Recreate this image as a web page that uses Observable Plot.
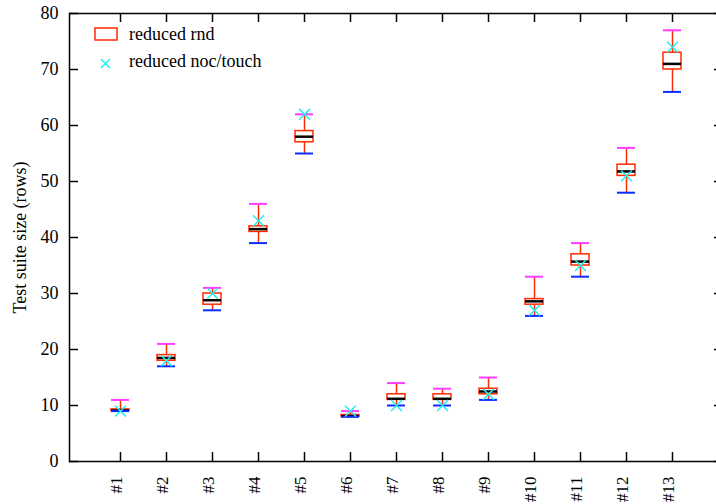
<!DOCTYPE html>
<html><head><meta charset="utf-8">
<script src="https://cdn.jsdelivr.net/npm/d3@7"></script>
<script src="https://cdn.jsdelivr.net/npm/@observablehq/plot@0.6"></script>
<style>
body{margin:0;background:#fff;}
#wrap{position:relative;width:716px;height:504px;overflow:hidden;background:#fff;}
.lg{position:absolute;font-family:"Liberation Serif",serif;font-size:18px;color:#000;white-space:nowrap;line-height:1;}
</style></head><body><div id="wrap"></div>
<script>
const labels = ["#1","#2","#3","#4","#5","#6","#7","#8","#9","#10","#11","#12","#13"];
const mins    = [9, 17, 27, 39, 55, 8, 10, 10, 11, 26, 33, 48, 66];
const q1s     = [9, 18, 28, 41, 57, 8, 11, 11, 12, 28, 35, 51, 70];
const medians = [9.1, 18.5, 28.8, 41.5, 58, 8.1, 11.2, 11.2, 12.5, 28.6, 35.7, 51.8, 71];
const q3s     = [9.3, 19, 30, 42, 59, 8.3, 12, 12, 13, 29, 37, 53, 73];
const maxs    = [11, 21, 31, 46, 62, 9, 14, 13, 15, 33, 39, 56, 77];
const nocTouch= [9, 18, 30, 43, 62, 9, 10, 10, 12, 27, 35, 51, 74];
const yTicks  = [0,10,20,30,40,50,60,70,80];
const yLabel = "Test suite size (rows)";
const legendLabels = ["reduced rnd","reduced noc/touch"];

const rows = labels.map((k,i)=>({k, min:mins[i], q1:q1s[i], med:medians[i], q3:q3s[i], max:maxs[i], noc:nocTouch[i]}));

const RED="#ff2a00", MAG="#ff3cff", BLUE="#0a2cff", CYAN="#1ef0f0";
const frameW = 716-69+7, frameH = 504-13-43;

const chart = Plot.plot({
  width:716, height:504,
  marginLeft:69, marginRight:-7, marginTop:13, marginBottom:43,
  style:{fontFamily:"Liberation Serif, serif", fontSize:"18px", background:"white", color:"black"},
  x:{type:"band", domain:labels, paddingInner:0.6, paddingOuter:0.8},
  y:{domain:[0,80]},
  marks:[
    Plot.frame({stroke:"black", strokeWidth:1.5}),
    Plot.ruleY(yTicks, {y:d=>d, insetRight:frameW-9, stroke:"black", strokeWidth:1.5}),
    Plot.ruleY(yTicks, {y:d=>d, insetLeft:frameW-9, stroke:"black", strokeWidth:1.5}),
    Plot.ruleX(labels, {x:d=>d, insetTop:frameH-9, stroke:"black", strokeWidth:1.5}),
    Plot.ruleX(labels, {x:d=>d, insetBottom:frameH-9, stroke:"black", strokeWidth:1.5}),
    Plot.axisY({ticks:yTicks, tickSize:0, tickPadding:11, label:yLabel, labelAnchor:"center", labelOffset:56, labelArrow:"none", fontSize:18}),
    Plot.axisX({tickSize:0, tickRotate:-90, tickPadding:15, label:null, fontSize:17, dx:-4}),
    Plot.ruleX(rows, {x:"k", y1:"min", y2:"max", stroke:RED, strokeWidth:1.5}),
    Plot.barY(rows, {x:"k", y1:"q1", y2:"q3", fill:"white", stroke:RED, strokeWidth:1.5}),
    Plot.tickY(rows, {x:"k", y:"med", stroke:"black", strokeWidth:2.5}),
    Plot.tickY(rows, {x:"k", y:"max", stroke:MAG, strokeWidth:2}),
    Plot.tickY(rows, {x:"k", y:"min", stroke:BLUE, strokeWidth:2}),
    Plot.dot(rows, {x:"k", y:"noc", symbol:"times", r:5, stroke:CYAN, strokeWidth:1.5})
  ]
});
const wrap = document.getElementById("wrap");
wrap.appendChild(chart);

function addLegend(){
  const sw1 = document.createElement("div");
  sw1.className="lg";
  sw1.style.left="94px"; sw1.style.top="27px";
  sw1.innerHTML = `<svg width="25" height="15"><rect x="1" y="1" width="22" height="12" fill="white" stroke="${RED}" stroke-width="1.5"/></svg>`;
  wrap.appendChild(sw1);
  const t1 = document.createElement("div");
  t1.className="lg"; t1.style.left="129px"; t1.style.top="25px"; t1.textContent=legendLabels[0];
  wrap.appendChild(t1);
  const sw2 = document.createElement("div");
  sw2.className="lg";
  sw2.style.left="99px"; sw2.style.top="55px";
  sw2.innerHTML = `<svg width="13" height="13"><path d="M2,2L11,11M11,2L2,11" stroke="${CYAN}" stroke-width="1.5"/></svg>`;
  wrap.appendChild(sw2);
  const t2 = document.createElement("div");
  t2.className="lg"; t2.style.left="129px"; t2.style.top="52px"; t2.textContent=legendLabels[1];
  wrap.appendChild(t2);
}
addLegend();
</script></body></html>
